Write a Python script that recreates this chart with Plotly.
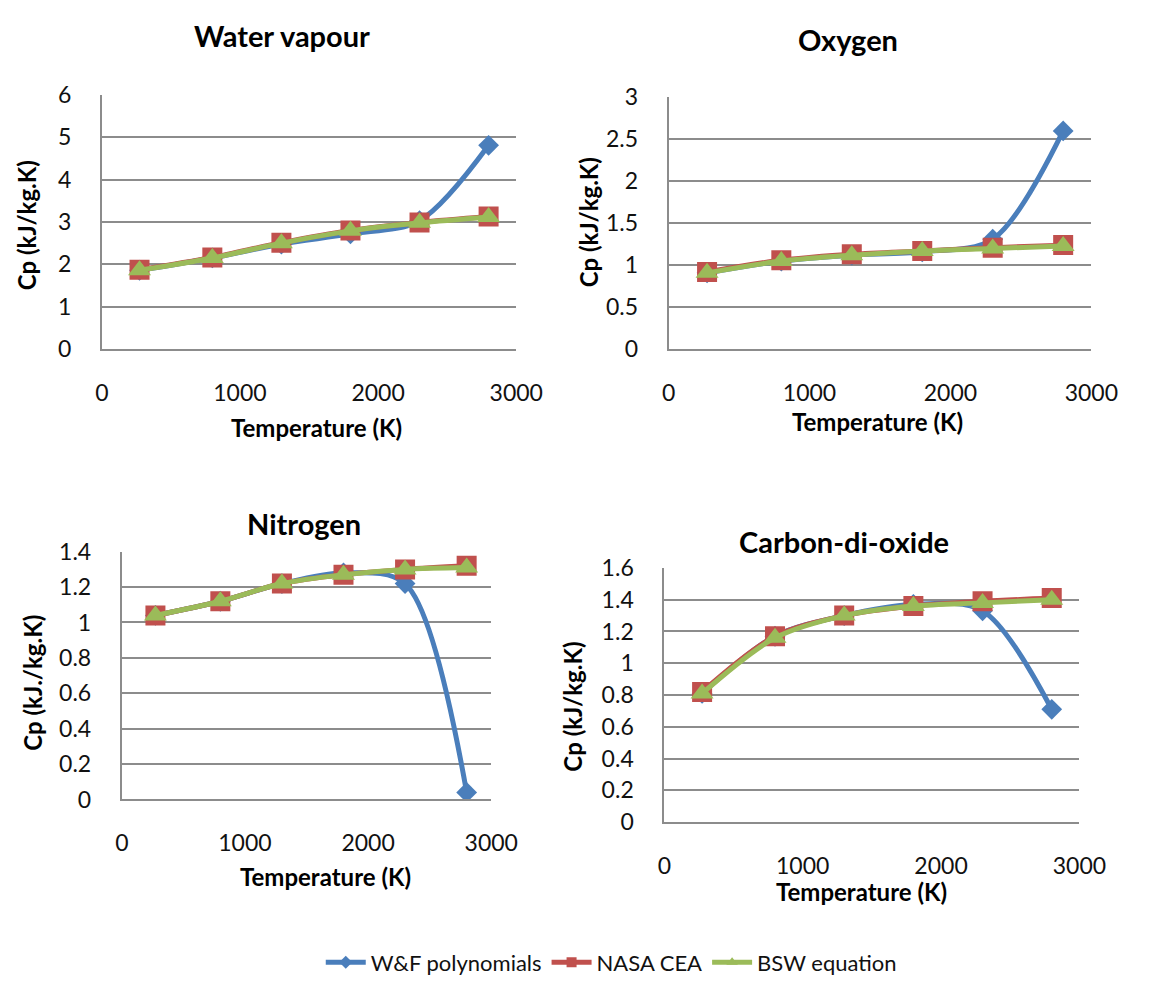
import plotly.graph_objects as go

# Temperatures at which the specific heat was evaluated (K)
temperature = [273, 800, 1300, 1800, 2300, 2800]

series_names = ["W&F polynomials", "NASA CEA", "BSW equation"]

# Cp (kJ/kg.K) for each gas and each method
water_wf = [1.86, 2.15, 2.48, 2.72, 3.03, 4.81]
water_nasa = [1.87, 2.16, 2.51, 2.80, 2.99, 3.13]
water_bsw = [1.86, 2.15, 2.50, 2.79, 2.98, 3.12]

oxygen_wf = [0.91, 1.05, 1.12, 1.16, 1.31, 2.60]
oxygen_nasa = [0.92, 1.06, 1.13, 1.17, 1.21, 1.24]
oxygen_bsw = [0.91, 1.05, 1.12, 1.17, 1.20, 1.23]

nitrogen_wf = [1.04, 1.12, 1.22, 1.28, 1.22, 0.04]
nitrogen_nasa = [1.04, 1.12, 1.22, 1.27, 1.30, 1.32]
nitrogen_bsw = [1.04, 1.12, 1.22, 1.27, 1.30, 1.31]

co2_wf = [0.81, 1.17, 1.30, 1.37, 1.33, 0.71]
co2_nasa = [0.82, 1.17, 1.30, 1.36, 1.39, 1.41]
co2_bsw = [0.81, 1.16, 1.30, 1.36, 1.38, 1.40]

panel_titles = ["Water vapour", "Oxygen", "Nitrogen", "Carbon-di-oxide"]
y_titles = ["Cp (kJ/kg.K)", "Cp (kJ/kg.K)", "Cp (kJ./kg.K)", "Cp (kJ/kg.K)"]
x_title = "Temperature (K)"
x_ticks = [0, 1000, 2000, 3000]
y_ranges = [(0, 6), (0, 3), (0, 1.4), (0, 1.6)]
y_steps = [1, 0.5, 0.2, 0.2]

panel_data = [
    (water_wf, water_nasa, water_bsw),
    (oxygen_wf, oxygen_nasa, oxygen_bsw),
    (nitrogen_wf, nitrogen_nasa, nitrogen_bsw),
    (co2_wf, co2_nasa, co2_bsw),
]

# ---- layout geometry (pixels on a 1153 x 990 page) ----
W, H = 1153, 990
# plot boxes: left, right, top, bottom
boxes = [
    (97.7, 524.7, 82.3, 343.7),
    (681.7, 1117.3, 84.7, 344.0),
    (118.3, 499.0, 552.3, 807.3),
    (677.3, 1105.0, 569.0, 830.7),
]
title_pos = [(283, 21), (867, 25), (306, 523), (862, 542)]
xtitle_pos = [(319, 425), (897, 418), (328, 887), (880, 902)]
ytitle_pos = [(20, 216), (600, 213), (26, 687), (583, 712)]

colors = ["#4A7EBB", "#C0504D", "#9BBB59"]
symbols = ["diamond", "square", "triangle-up"]
marker_sizes = [16, 20, 20]

FONT = "Lato"
GRID = "#8C8C8C"


def px_x(v):
    return v / W


def px_y(v):
    return 1 - v / H


fig = go.Figure()
layout = {}
annotations = []

for i, (vals, box) in enumerate(zip(panel_data, boxes)):
    sfx = "" if i == 0 else str(i + 1)
    xa, ya = "x" + sfx, "y" + sfx
    for k in range(3):
        fig.add_trace(go.Scatter(
            x=temperature, y=vals[k], xaxis=xa, yaxis=ya,
            mode="lines+markers", name=series_names[k], showlegend=False,
            line=dict(color=colors[k], width=5, shape="spline", smoothing=0.9),
            marker=dict(symbol=symbols[k], size=marker_sizes[k], color=colors[k]),
        ))
    l, r, t, b = box
    layout["xaxis" + sfx] = dict(
        domain=[px_x(l), px_x(r)], anchor=ya, range=[0, 3000],
        tickvals=x_ticks, showgrid=False, showline=True, linecolor=GRID,
        linewidth=2, zeroline=False, ticks="", ticklabelstandoff=22,
        tickfont=dict(family=FONT, size=23, color="#111111"),
    )
    y0, y1 = y_ranges[i]
    layout["yaxis" + sfx] = dict(
        domain=[px_y(b), px_y(t)], anchor=xa, range=[y0, y1],
        dtick=y_steps[i], tick0=0, showgrid=True, gridcolor=GRID, gridwidth=2,
        showline=True, linecolor=GRID, linewidth=2, zeroline=False, ticks="",
        ticklabelstandoff=24,
        tickfont=dict(family=FONT, size=23, color="#111111"),
    )
    tx, ty = title_pos[i]
    annotations.append(dict(
        text="<b>%s</b>" % panel_titles[i], x=px_x(tx), y=px_y(ty),
        xref="paper", yref="paper", xanchor="center", yanchor="middle",
        showarrow=False, font=dict(family=FONT, size=29, color="#000000"),
    ))
    ax_, ay_ = xtitle_pos[i]
    annotations.append(dict(
        text="<b>%s</b>" % x_title, x=px_x(ax_), y=px_y(ay_),
        xref="paper", yref="paper", xanchor="center", yanchor="middle",
        showarrow=False, font=dict(family=FONT, size=24, color="#000000"),
    ))
    yx, yy = ytitle_pos[i]
    annotations.append(dict(
        text="<b>%s</b>" % y_titles[i], x=px_x(yx), y=px_y(yy), textangle=-90,
        xref="paper", yref="paper", xanchor="center", yanchor="middle",
        showarrow=False, font=dict(family=FONT, size=24, color="#000000"),
    ))

# legend entries with small markers
for k in range(3):
    fig.add_trace(go.Scatter(
        x=[None], y=[None], mode="lines+markers", name=series_names[k],
        line=dict(color=colors[k], width=5),
        marker=dict(symbol=symbols[k], size=10, color=colors[k]),
        showlegend=True,
    ))

fig.update_layout(
    width=W, height=H,
    margin=dict(l=0, r=0, t=0, b=0),
    paper_bgcolor="white", plot_bgcolor="white",
    font=dict(family=FONT, color="#111111"),
    annotations=annotations,
    legend=dict(
        orientation="h", x=0.54, y=px_y(975), xanchor="center", yanchor="middle",
        font=dict(family=FONT, size=22, color="#111111"), itemwidth=40,
        bgcolor="rgba(0,0,0,0)",
    ),
    **layout,
)

fig.write_html("out.html")
